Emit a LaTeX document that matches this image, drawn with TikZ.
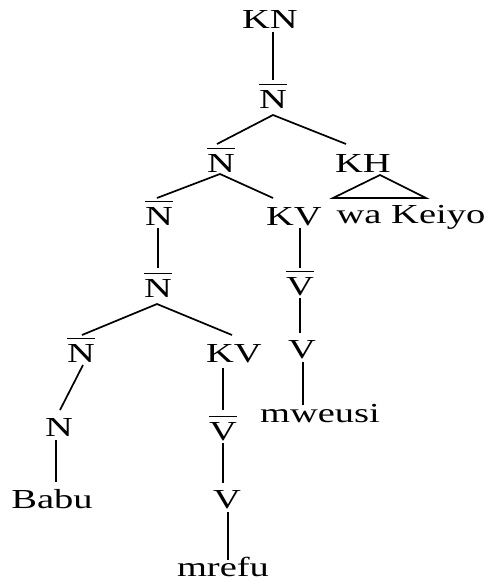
\documentclass[tikz,border=0pt]{standalone}
\usepackage{fontspec}
\setmainfont{Liberation Serif}[FakeStretch=1.4]
\usetikzlibrary{calc}
\newcommand\ob[1]{\vbox{\hrule height 1.6pt\kern 4.5pt\hbox{#1}}}
\begin{document}
\begin{tikzpicture}[x=1pt,y=-1pt,
  lab/.style={anchor=base,inner sep=0pt,font=\fontsize{27.5}{30}\selectfont},
  edge/.style={line width=1.7pt}]
\useasboundingbox (0,0) rectangle (490,581);
\node[lab] (KN) at (270,28) {KN};
\node[lab] (N1) at (273,108) {\ob{N}};
\node[lab] (N2) at (221,172) {\ob{N}};
\node[lab] (KH) at (363,172) {KH};
\node[lab] (WK) at (411,223) {wa Keiyo};
\node[lab] (N3) at (159,225) {\ob{N}};
\node[lab] (KV1) at (294,225) {KV};
\node[lab] (N4) at (158,297) {\ob{N}};
\node[lab] (VB1) at (300,295) {\ob{V}};
\node[lab] (V1) at (302,358) {V};
\node[lab] (MW) at (320,422) {mweusi};
\node[lab] (N5) at (81,362) {\ob{N}};
\node[lab] (KV2) at (234,362) {KV};
\node[lab] (N6) at (59,436) {N};
\node[lab] (VB2) at (223,440) {\ob{V}};
\node[lab] (BA) at (52,508) {Babu};
\node[lab] (V2) at (227,508) {V};
\node[lab] (MR) at (223,576) {mrefu};

\draw[edge] ($(KN.base)+(3,4)$) -- ($(N1.base)+(0,-28)$);
\draw[edge] ($(N2.base)+(-4,-28)$) -- ($(N1.base)+(0,7)$) -- ($(KH.base)+(-17,-28)$);
\draw[edge] ($(KH.base)+(17,3)$) -- ($(WK.base)+(15,-25)$) -- ($(WK.base)+(-78,-25)$) -- cycle;
\draw[edge] ($(N3.base)+(-2,-27)$) -- ($(N2.base)+(-1,2)$) -- ($(KV1.base)+(-21,-27)$);
\draw[edge] ($(N3.base)+(-1,3)$) -- ($(N4.base)+(0,-29)$);
\draw[edge] ($(N5.base)+(1,-27)$) -- ($(N4.base)+(-1,7)$) -- ($(KV2.base)+(-2,-27)$);
\draw[edge] ($(N5.base)+(2,3)$) -- ($(N6.base)+(1,-26)$);
\draw[edge] ($(N6.base)+(-3,4)$) -- ($(BA.base)+(4,-26)$);
\draw[edge] ($(KV2.base)+(-11,6)$) -- ($(VB2.base)+(0,-30)$);
\draw[edge] ($(VB2.base)+(0,3)$) -- ($(V2.base)+(-4,-25)$);
\draw[edge] ($(V2.base)+(1,4)$) -- ($(MR.base)+(5,-16)$);
\draw[edge] ($(KV1.base)+(6,3)$) -- ($(VB1.base)+(0,-27)$);
\draw[edge] ($(VB1.base)+(0,3)$) -- ($(V1.base)+(-2,-25)$);
\draw[edge] ($(V1.base)+(1,4)$) -- ($(MW.base)+(-17,-17)$);
\end{tikzpicture}
\end{document}
